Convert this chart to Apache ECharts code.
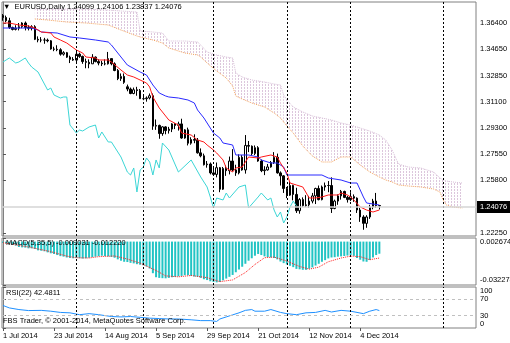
<!DOCTYPE html>
<html><head><meta charset="utf-8">
<script src="https://cdn.jsdelivr.net/npm/echarts@6/dist/echarts.min.js"></script>
<style>html,body{margin:0;padding:0;background:#fff}#c{width:510px;height:343px}</style>
</head><body><div id="c"></div>
<script>
const FONT = '"Liberation Sans", Arial, sans-serif';
// ---------- data ----------
const dateIdx = [0,16,32,48,64,80,96,112];
const dateLabels = ['1 Jul 2014','23 Jul 2014','14 Aug 2014','5 Sep 2014','29 Sep 2014','21 Oct 2014','12 Nov 2014','4 Dec 2014'];
const sepIdx = [23,44,66,89,109,138];
const priceTicks = [1.364,1.3465,1.3285,1.311,1.293,1.2755,1.258,1.2225];
const macdTicks = [0.002674,0,-0.032278];
const rsiTicks = [100,70,30,0];
const rsiLevels = [70,30];

const open = [
1.3690,1.3677,1.3655,1.3610,1.3597,1.3605,1.3615,1.3640,1.3610,1.3605,
1.3615,1.3530,1.3525,1.3525,1.3525,1.3520,1.3465,1.3463,1.3460,1.3430,
1.3440,1.3410,1.3395,1.3390,1.3430,1.3415,1.3380,1.3375,1.3365,1.3410,
1.3380,1.3370,1.3365,1.3365,1.3400,1.3365,1.3320,1.3265,1.3280,1.3210,
1.3195,1.3165,1.3190,1.3185,1.3130,1.3130,1.3135,1.3150,1.2945,1.2950,
1.2895,1.2940,1.2915,1.2925,1.2960,1.2950,1.2960,1.2865,1.2920,1.2830,
1.2855,1.2850,1.2765,1.2745,1.2685,1.2690,1.2630,1.2620,1.2665,1.2520,
1.2660,1.2645,1.2710,1.2650,1.2630,1.2735,1.2650,1.2815,1.2810,1.2760,
1.2800,1.2710,1.2645,1.2650,1.2670,1.2700,1.2735,1.2630,1.2610,1.2525,
1.2480,1.2545,1.2485,1.2375,1.2450,1.2410,1.2415,1.2440,1.2475,1.2525,
1.2450,1.2535,1.2545,1.2545,1.2390,1.2440,1.2475,1.2505,1.2465,1.2450,
1.2470,1.2460,1.2380,1.2333,1.2290,1.2333,1.2400,1.2440,1.24099];
const close = [
1.3677,1.3655,1.3610,1.3597,1.3605,1.3615,1.3640,1.3610,1.3605,1.3615,
1.3530,1.3525,1.3525,1.3525,1.3520,1.3465,1.3463,1.3460,1.3430,1.3440,
1.3410,1.3395,1.3390,1.3430,1.3415,1.3380,1.3375,1.3365,1.3410,1.3380,
1.3370,1.3365,1.3365,1.3400,1.3365,1.3320,1.3265,1.3280,1.3240,1.3195,
1.3165,1.3190,1.3185,1.3130,1.3130,1.3135,1.3150,1.2945,1.2950,1.2895,
1.2940,1.2915,1.2925,1.2960,1.2950,1.2960,1.2865,1.2920,1.2830,1.2855,
1.2850,1.2765,1.2745,1.2685,1.2690,1.2630,1.2620,1.2665,1.2520,1.2660,
1.2645,1.2710,1.2650,1.2630,1.2735,1.2650,1.2815,1.2810,1.2760,1.2800,
1.2710,1.2645,1.2650,1.2670,1.2700,1.2735,1.2630,1.2610,1.2525,1.2480,
1.2545,1.2485,1.2375,1.2450,1.2410,1.2415,1.2440,1.2475,1.2525,1.2450,
1.2535,1.2545,1.2545,1.2390,1.2440,1.2475,1.2505,1.2465,1.2450,1.2470,
1.2460,1.2380,1.2333,1.2290,1.2333,1.2400,1.2440,1.2410,1.24076];
const high = [
1.3700,1.3690,1.3675,1.3615,1.3625,1.3640,1.3645,1.3650,1.3625,1.3625,
1.3625,1.3550,1.3545,1.3540,1.3535,1.3525,1.3480,1.3490,1.3470,1.3450,
1.3445,1.3420,1.3410,1.3445,1.3440,1.3420,1.3400,1.3395,1.3430,1.3415,
1.3395,1.3385,1.3395,1.3445,1.3400,1.3375,1.3330,1.3300,1.3300,1.3225,
1.3205,1.3205,1.3210,1.3195,1.3150,1.3145,1.3165,1.3165,1.2990,1.2955,
1.2945,1.2945,1.2940,1.2965,1.2965,1.2975,1.2995,1.2925,1.2935,1.2870,
1.2890,1.2865,1.2795,1.2760,1.2710,1.2700,1.2665,1.2700,1.2670,1.2670,
1.2680,1.2740,1.2790,1.2685,1.2755,1.2750,1.2885,1.2845,1.2815,1.2815,
1.2810,1.2720,1.2675,1.2690,1.2710,1.2770,1.2760,1.2640,1.2615,1.2535,
1.2575,1.2550,1.2530,1.2460,1.2465,1.2480,1.2475,1.2495,1.2530,1.2545,
1.2545,1.2565,1.2575,1.2600,1.2450,1.2485,1.2515,1.2510,1.2475,1.2500,
1.2485,1.2465,1.2395,1.2345,1.2345,1.2415,1.2455,1.2495,1.24106];
const low = [
1.3655,1.3645,1.3600,1.3590,1.3590,1.3590,1.3605,1.3590,1.3590,1.3590,
1.3525,1.3510,1.3510,1.3500,1.3510,1.3460,1.3450,1.3450,1.3420,1.3420,
1.3405,1.3370,1.3385,1.3375,1.3405,1.3365,1.3335,1.3335,1.3365,1.3375,
1.3355,1.3350,1.3355,1.3360,1.3355,1.3315,1.3255,1.3250,1.3230,1.3180,
1.3160,1.3160,1.3150,1.3130,1.3120,1.3110,1.3125,1.2920,1.2920,1.2860,
1.2880,1.2890,1.2895,1.2905,1.2925,1.2915,1.2860,1.2860,1.2815,1.2820,
1.2830,1.2760,1.2735,1.2680,1.2665,1.2620,1.2610,1.2600,1.2500,1.2515,
1.2610,1.2620,1.2640,1.2610,1.2620,1.2645,1.2625,1.2770,1.2745,1.2750,
1.2705,1.2635,1.2615,1.2645,1.2665,1.2690,1.2625,1.2545,1.2495,1.2460,
1.2475,1.2445,1.2360,1.2355,1.2400,1.2400,1.2395,1.2425,1.2420,1.2445,
1.2445,1.2510,1.2500,1.2360,1.2385,1.2415,1.2450,1.2460,1.2430,1.2440,
1.2435,1.2360,1.2300,1.2247,1.2260,1.2320,1.2385,1.2395,1.23837];

const tenkanIdx = [0,2,5,8,10,12,15,16,18,20,23,25,26,29,30,33,34,37,39,41,43,45,46,47,49,52,55,56,59,61,63,64,66,67,69,70,72,73,75,77,80,81,84,86,87,88,89,90,92,94,96,98,100,102,105,106,108,109,110,112,114,116,118];
const tenkanVal = [1.3640,1.3640,1.36265,1.36198,1.36063,1.35794,1.35726,1.35457,1.35255,1.35052,1.34581,1.34379,1.34109,1.34042,1.33907,1.33907,1.33772,1.33233,1.32896,1.32762,1.32559,1.32357,1.32088,1.31414,1.30673,1.29864,1.29527,1.28988,1.28853,1.28517,1.28382,1.28180,1.27843,1.27641,1.27169,1.26630,1.26360,1.26630,1.26697,1.27371,1.27303,1.27371,1.27506,1.27371,1.26967,1.26630,1.26293,1.25619,1.25484,1.25350,1.24609,1.24609,1.24676,1.24811,1.24811,1.24946,1.24811,1.24676,1.24474,1.24002,1.23800,1.23665,1.23800];
const kijunIdx = [0,9,11,12,17,21,24,29,33,34,37,39,43,45,47,49,51,52,55,58,60,61,63,66,68,69,72,73,77,80,81,84,86,88,89,100,102,106,109,111,112,113,114,118];
const kijunVal = [1.36063,1.36063,1.35928,1.35794,1.35726,1.35457,1.35390,1.35255,1.35120,1.34918,1.34109,1.33570,1.33098,1.32896,1.32222,1.31683,1.31481,1.31414,1.31347,1.31212,1.31010,1.30538,1.29999,1.28988,1.28651,1.28314,1.28180,1.27506,1.27506,1.27371,1.27169,1.26967,1.26967,1.26697,1.26158,1.26158,1.25956,1.25821,1.25619,1.25619,1.25148,1.24676,1.24272,1.24137];
const chikouIdx = [0,1,2,4,5,7,8,9,11,12,14,15,16,18,19,20,21,23,24,25,27,29,30,31,33,34,37,39,40,41,42,43,44,45,46,47,48,49,50,52,55,59,62,64,65,66,67,69,70,71,74,76,77,80,81,83,84,85,86,87,88,89,90,91,92];
const chikouVal = [1.33772,1.33907,1.34042,1.33705,1.33772,1.34042,1.33705,1.33435,1.33098,1.32694,1.31886,1.32020,1.31549,1.31347,1.31414,1.31414,1.29527,1.28988,1.29190,1.29123,1.29393,1.29527,1.28651,1.29056,1.28382,1.28382,1.27371,1.26360,1.26158,1.26630,1.25013,1.26495,1.26697,1.27304,1.27034,1.26158,1.27169,1.26630,1.28314,1.27843,1.26360,1.27169,1.26023,1.25350,1.24676,1.23935,1.24608,1.24474,1.24945,1.24608,1.25350,1.25484,1.23935,1.24676,1.24945,1.24474,1.24608,1.23800,1.23328,1.23665,1.22924,1.23328,1.24002,1.24400,1.24076];
const cloudIdx = [10,14,20,26,33,37,42,43,47,50,52,57,61,62,64,67,70,72,73,75,78,82,85,87,88,89,91,94,97,100,103,106,109,112,115,118,120,122,124,127,131,135,137,138,139,141,144];
const spanA = [1.36670,1.36602,1.36467,1.36400,1.36265,1.35928,1.35524,1.35457,1.35255,1.35052,1.34716,1.34379,1.34244,1.34109,1.33705,1.33166,1.32694,1.32155,1.31481,1.31279,1.31010,1.30740,1.30336,1.29999,1.29729,1.29460,1.28988,1.28112,1.27438,1.27034,1.27034,1.27371,1.27371,1.26832,1.26360,1.26023,1.25821,1.25687,1.25484,1.25417,1.25350,1.25215,1.25013,1.24474,1.24137,1.24002,1.23935];
const spanB = [1.37343,1.37343,1.37343,1.37343,1.37276,1.37209,1.37141,1.35861,1.35794,1.35726,1.35187,1.35187,1.35120,1.34918,1.34446,1.34244,1.34109,1.34042,1.33031,1.32762,1.32559,1.32425,1.32290,1.32222,1.31549,1.31212,1.30740,1.30403,1.30134,1.29999,1.29864,1.29662,1.29527,1.29325,1.29123,1.28853,1.28517,1.27843,1.26899,1.26697,1.26630,1.26360,1.25956,1.25821,1.25754,1.25687,1.25619];

const macdHist = [
-0.0010,-0.0013,-0.0020,-0.0025,-0.0030,-0.0040,-0.0043,-0.0045,-0.0050,-0.0050,
-0.0055,-0.0065,-0.0068,-0.0072,-0.0080,-0.0087,-0.0092,-0.0100,-0.0108,-0.0112,
-0.0118,-0.0122,-0.0124,-0.0122,-0.0124,-0.0126,-0.0124,-0.0120,-0.0115,-0.0112,
-0.0108,-0.0105,-0.0107,-0.0110,-0.0114,-0.0120,-0.0132,-0.0142,-0.0150,-0.0152,
-0.0158,-0.0162,-0.0168,-0.0172,-0.0176,-0.0185,-0.0200,-0.0235,-0.0265,-0.0270,
-0.0272,-0.0273,-0.0270,-0.0265,-0.0262,-0.0258,-0.0255,-0.0250,-0.0250,-0.0255,
-0.0260,-0.0262,-0.0270,-0.0280,-0.0286,-0.0295,-0.0300,-0.0303,-0.0300,-0.0288,
-0.0275,-0.0262,-0.0248,-0.0228,-0.0207,-0.0187,-0.0165,-0.0142,-0.0124,-0.0105,
-0.0092,-0.0100,-0.0110,-0.0115,-0.0118,-0.0122,-0.0132,-0.0148,-0.0160,-0.0170,
-0.0180,-0.0190,-0.0203,-0.0206,-0.0210,-0.0210,-0.0202,-0.0192,-0.0178,-0.0165,
-0.0150,-0.0138,-0.0125,-0.0118,-0.0116,-0.0112,-0.0110,-0.0107,-0.0104,-0.0100,
-0.0106,-0.0122,-0.0135,-0.0148,-0.0150,-0.0137,-0.0118,-0.0100,-0.0090];
const signalIdx = [0,8,15,20,23,27,30,35,39,43,48,51,55,59,64,68,72,76,79,82,85,89,93,96,99,102,106,109,112,115,118];
const signalVal = [-0.0008,-0.0040,-0.0075,-0.0108,-0.0120,-0.0122,-0.0112,-0.0107,-0.0130,-0.0160,-0.0215,-0.0255,-0.0262,-0.0252,-0.0268,-0.0298,-0.0285,-0.0230,-0.0170,-0.0120,-0.0115,-0.0145,-0.0185,-0.0205,-0.0190,-0.0150,-0.0122,-0.0108,-0.0112,-0.0135,-0.01222];
const rsiIdx = [0,2,5,8,12,15,18,21,24,27,30,34,37,40,43,46,49,52,55,59,62,65,67,68,70,72,74,76,78,79,82,84,87,89,92,95,98,101,103,106,109,111,113,115,117,118];
const rsiVal = [55,49,45,42.5,43,41,38,37,32.5,35,32.5,28,27,28,26,24,23,22,22,20,18,18,16,22,27,32,37,43,45,41,41,45,38,35,32.5,37,38,43,39,43,41,38,35,41,45,42.4811];

const symbolName = 'EURUSD,Daily';
const macdText = 'MACD(5,35,5) -0.009031 -0.012220';
const rsiText = 'RSI(22) 42.4811';
const copyText = 'FBS Trader, \u00A9 2001-2014, MetaQuotes Software Corp.';

// ---------- build ----------
const last = close.length - 1;
const titleText = '\u25BC  ' + symbolName + ' ' + [open[last], high[last], low[last], close[last]].map(v => v.toFixed(5)).join(' ');
const pairs = (xs, ys) => xs.map((x, i) => [x, ys[i]]);
const candleData = open.map((o, i) => [i, o, close[i], low[i], high[i]]);
const cloudSeg = cloudIdx.slice(1).map((x, k) => [cloudIdx[k], spanA[k], spanB[k], x, spanA[k + 1], spanB[k + 1]]);
const histData = macdHist.map((v, i) => [i, v]);

const pat = document.createElement('canvas');
pat.width = 3; pat.height = 3;
const pc = pat.getContext('2d');
pc.fillStyle = '#dcc6dc'; pc.fillRect(1, 0, 1, 2);

const X_MIN = -0.3, X_MAX = 148.3;
const TXT = { fontSize: 7.5, color: '#000', fontFamily: FONT };
const sepLineData = sepIdx.map(v => ({ xAxis: v }));
const sepStyle = { color: '#000', width: 1, type: [2, 2] };
const gridStyle = { show: true, borderColor: '#808080', borderWidth: 1, backgroundColor: 'transparent', outerBoundsMode: 'none', containLabel: false };
const hiddenX = { type: 'value', min: X_MIN, max: X_MAX, splitLine: { show: false }, axisLine: { show: false }, axisTick: { show: false }, axisLabel: { show: false } };

const chart = echarts.init(document.getElementById('c'));
chart.setOption({
  animation: false,
  backgroundColor: '#fff',
  title: [
    { text: titleText, left: 3, top: 3, padding: 0, textStyle: Object.assign({ fontWeight: 'normal' }, TXT) },
    { text: macdText, left: 6, top: 238.5, padding: 0, textStyle: Object.assign({ fontWeight: 'normal' }, TXT) },
    { text: rsiText, left: 6, top: 289, padding: 0, textStyle: Object.assign({ fontWeight: 'normal' }, TXT) },
    { text: copyText, left: 3, top: 316.5, padding: 0, textStyle: Object.assign({ fontWeight: 'normal' }, TXT) }
  ],
  grid: [
    Object.assign({ left: 2, top: 2, width: 474, height: 234 }, gridStyle),
    Object.assign({ left: 2, top: 238, width: 474, height: 47 }, gridStyle),
    Object.assign({ left: 2, top: 287, width: 474, height: 41 }, gridStyle)
  ],
  xAxis: [
    Object.assign({ gridIndex: 0 }, hiddenX),
    Object.assign({ gridIndex: 1 }, hiddenX),
    {
      gridIndex: 2, type: 'value', min: X_MIN, max: X_MAX, splitLine: { show: false },
      axisLine: { show: false },
      axisTick: { show: true, customValues: dateIdx, length: 3, inside: false, lineStyle: { color: '#555' } },
      axisLabel: Object.assign({ show: true, customValues: dateIdx, align: 'left', margin: 4, showMinLabel: true, showMaxLabel: true, hideOverlap: false,
        formatter: v => dateLabels[dateIdx.indexOf(Math.round(v))] }, TXT)
    }
  ],
  yAxis: [
    {
      gridIndex: 0, type: 'value', position: 'right', min: 1.22048, max: 1.37815,
      splitLine: { show: false }, axisLine: { show: true, lineStyle: { color: '#808080' } },
      axisTick: { show: true, customValues: priceTicks, length: 3, lineStyle: { color: '#555' } },
      axisLabel: Object.assign({ customValues: priceTicks, margin: 4, showMinLabel: true, showMaxLabel: true, hideOverlap: false, formatter: v => v.toFixed(5) }, TXT)
    },
    {
      gridIndex: 1, type: 'value', position: 'right', min: -0.032278, max: 0.002674,
      splitLine: { show: false }, axisLine: { show: true, lineStyle: { color: '#808080' } },
      axisTick: { show: true, customValues: macdTicks, length: 3, lineStyle: { color: '#555' } },
      axisLabel: Object.assign({ customValues: macdTicks, margin: 4, showMinLabel: true, showMaxLabel: true, hideOverlap: false,
        formatter: v => v === 0 ? '{z|0.00}' : (v > 0 ? '{t|' + v.toFixed(6) + '}' : '{b|' + v.toFixed(6) + '}'),
        rich: { t: { padding: [7, 0, 0, 0], fontSize: 7.5, fontFamily: FONT, color: '#000' },
                b: { padding: [0, 0, 11, 0], fontSize: 7.5, fontFamily: FONT, color: '#000' },
                z: { fontSize: 7.5, fontFamily: FONT, color: '#000' } } }, TXT)
    },
    {
      gridIndex: 2, type: 'value', position: 'right', min: 0, max: 100,
      splitLine: { show: false }, axisLine: { show: true, lineStyle: { color: '#808080' } },
      axisTick: { show: true, customValues: rsiTicks, length: 3, lineStyle: { color: '#555' } },
      axisLabel: Object.assign({ customValues: rsiTicks, margin: 4, showMinLabel: true, showMaxLabel: true, hideOverlap: false,
        formatter: v => v === 100 ? '{t|100}' : (v === 0 ? '{b|0}' : String(v)),
        rich: { t: { padding: [7, 0, 0, 0], fontSize: 7.5, fontFamily: FONT, color: '#000' },
                b: { padding: [0, 0, 9, 0], fontSize: 7.5, fontFamily: FONT, color: '#000' } } }, TXT)
    }
  ],
  series: [
    {
      type: 'custom', name: 'cloud', xAxisIndex: 0, yAxisIndex: 0, z: 1, silent: true, clip: true,
      data: cloudSeg, encode: { x: [0, 3], y: [1, 2, 4, 5] },
      renderItem: function (params, api) {
        const p1 = api.coord([api.value(0), api.value(1)]);
        const p2 = api.coord([api.value(3), api.value(4)]);
        const p3 = api.coord([api.value(3), api.value(5)]);
        const p4 = api.coord([api.value(0), api.value(2)]);
        return { type: 'polygon', shape: { points: [p1, p2, p3, p4] }, style: { fill: { image: pat, repeat: 'repeat' }, stroke: null } };
      }
    },
    { type: 'line', name: 'SpanA', xAxisIndex: 0, yAxisIndex: 0, z: 2, data: pairs(cloudIdx, spanA), symbol: 'none', silent: true,
      lineStyle: { color: '#F4A460', width: 1, type: 'dotted' } },
    { type: 'line', name: 'SpanB', xAxisIndex: 0, yAxisIndex: 0, z: 2, data: pairs(cloudIdx, spanB), symbol: 'none', silent: true,
      lineStyle: { color: '#D8BFD8', width: 1, type: 'dotted' } },
    {
      type: 'candlestick', name: 'EURUSD', xAxisIndex: 0, yAxisIndex: 0, z: 3, data: candleData,
      encode: { x: 0, y: [1, 2, 3, 4] }, barWidth: 2,
      itemStyle: { color: '#ffffff', color0: '#000000', borderColor: '#000000', borderColor0: '#000000', borderWidth: 1 },
      markLine: {
        silent: true, symbol: ['none', 'none'], animation: false, label: { show: false }, lineStyle: sepStyle,
        data: sepLineData.concat([{
          yAxis: close[last], lineStyle: { color: '#d4d4d4', width: 1.5, type: 'solid' },
          label: { show: true, position: 'end', distance: 1, formatter: close[last].toFixed(5),
            backgroundColor: '#000', color: '#fff', padding: [2, 3, 2, 3], fontSize: 7.5, fontFamily: FONT }
        }])
      }
    },
    { type: 'line', name: 'Chikou', xAxisIndex: 0, yAxisIndex: 0, z: 4, data: pairs(chikouIdx, chikouVal), symbol: 'none', silent: true,
      lineStyle: { color: '#3cd6d6', width: 1 } },
    { type: 'line', name: 'Kijun', xAxisIndex: 0, yAxisIndex: 0, z: 4, data: pairs(kijunIdx, kijunVal), symbol: 'none', silent: true,
      lineStyle: { color: '#2a2aff', width: 1 } },
    { type: 'line', name: 'Tenkan', xAxisIndex: 0, yAxisIndex: 0, z: 4, data: pairs(tenkanIdx, tenkanVal), symbol: 'none', silent: true,
      lineStyle: { color: '#ff1a1a', width: 1 } },
    {
      type: 'bar', name: 'MACD', xAxisIndex: 1, yAxisIndex: 1, data: histData, barWidth: 2, silent: true,
      itemStyle: { color: '#22c4c4' },
      markLine: { silent: true, symbol: ['none', 'none'], animation: false, label: { show: false }, lineStyle: sepStyle, data: sepLineData }
    },
    { type: 'line', name: 'Signal', xAxisIndex: 1, yAxisIndex: 1, z: 4, data: pairs(signalIdx, signalVal), symbol: 'none', silent: true,
      lineStyle: { color: '#ff2020', width: 1, type: 'dotted' } },
    {
      type: 'line', name: 'RSI', xAxisIndex: 2, yAxisIndex: 2, z: 4, data: pairs(rsiIdx, rsiVal), symbol: 'none', silent: true,
      lineStyle: { color: '#1E90FF', width: 1 },
      markLine: {
        silent: true, symbol: ['none', 'none'], animation: false, label: { show: false }, lineStyle: sepStyle,
        data: sepLineData.concat(rsiLevels.map(v => ({ yAxis: v, lineStyle: { color: '#c0c0c0', width: 1, type: [3, 3] } })))
      }
    }
  ]
});
</script></body></html>
